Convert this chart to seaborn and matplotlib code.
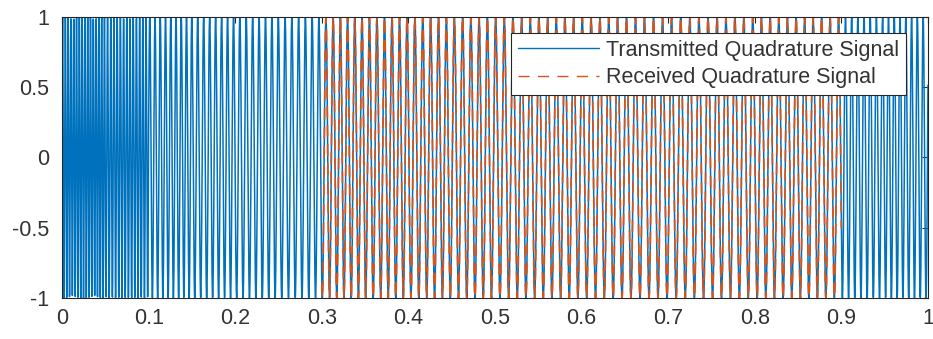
import numpy as np
import pandas as pd
import matplotlib
matplotlib.use("Agg")
import matplotlib.pyplot as plt
import seaborn as sns
from matplotlib.ticker import FormatStrFormatter

# sampling of the time axis (seconds)
fs = 5000
duration = 1.0

# instantaneous frequency (Hz) per 0.05 s segment, estimated from the bar density
segment_freqs = [310, 270, 165, 145, 135, 128, 120, 115, 110, 105,
                 100, 100, 98, 96, 95, 97, 100, 102, 140, 150]

# window in which the received signal is shown
rx_start, rx_stop = 0.3, 0.9

x_ticks = [0, 0.1, 0.2, 0.3, 0.4, 0.5, 0.6, 0.7, 0.8, 0.9, 1]
y_ticks = [-1, -0.5, 0, 0.5, 1]

t = np.arange(0, duration + 1 / fs, 1 / fs)
seg = np.minimum((t / 0.05).astype(int), len(segment_freqs) - 1)
phase = 2 * np.pi * np.cumsum(np.array(segment_freqs)[seg]) / fs
tx = np.sin(phase)
mask = (t >= rx_start) & (t <= rx_stop)

frame_tx = pd.DataFrame({"t": t, "v": tx})
frame_rx = pd.DataFrame({"t": t[mask], "v": tx[mask]})

sns.set_style("white")
plt.rcParams["font.family"] = ["Liberation Sans", "DejaVu Sans"]

fig, ax = plt.subplots(figsize=(9.33, 3.39), dpi=100)
fig.subplots_adjust(left=0.0665, right=0.9946, top=0.95, bottom=0.121)

sns.lineplot(data=frame_tx, x="t", y="v", color="#0072BD", linewidth=1.1,
             estimator=None, sort=False, ax=ax,
             label="Transmitted Quadrature Signal")
sns.lineplot(data=frame_rx, x="t", y="v", color="#D95319", linewidth=1.2,
             estimator=None, sort=False, ax=ax,
             label="Received Quadrature Signal")
ax.lines[1].set_dashes((7, 4.5))

ax.set_xlim(0, 1)
ax.set_ylim(-1, 1)
ax.set_xticks(x_ticks)
ax.set_yticks(y_ticks)
ax.xaxis.set_major_formatter(FormatStrFormatter("%g"))
ax.yaxis.set_major_formatter(FormatStrFormatter("%g"))
ax.set_xlabel("")
ax.set_ylabel("")
ax.tick_params(direction="in", length=4, width=0.8, color="#262626",
               labelcolor="#333333", labelsize=15.5, top=True, right=True)
ax.tick_params(axis="y", pad=9)
ax.tick_params(axis="x", pad=7)
for spine in ax.spines.values():
    spine.set_color("#262626")
    spine.set_linewidth(0.8)

leg = ax.legend(loc="upper right", bbox_to_anchor=(0.9746, 0.943),
                fontsize=15.5, frameon=True, fancybox=False, framealpha=1,
                edgecolor="#262626", handlelength=3.8, borderpad=0.32,
                labelspacing=0.3, handletextpad=0.3, borderaxespad=0.0)
leg.get_frame().set_linewidth(0.8)
for text in leg.get_texts():
    text.set_color("#333333")
for handle in leg.get_lines():
    handle.set_linewidth(1.0)
leg.get_lines()[1].set_dashes((8, 6))

fig.savefig("out.png", dpi=100)
